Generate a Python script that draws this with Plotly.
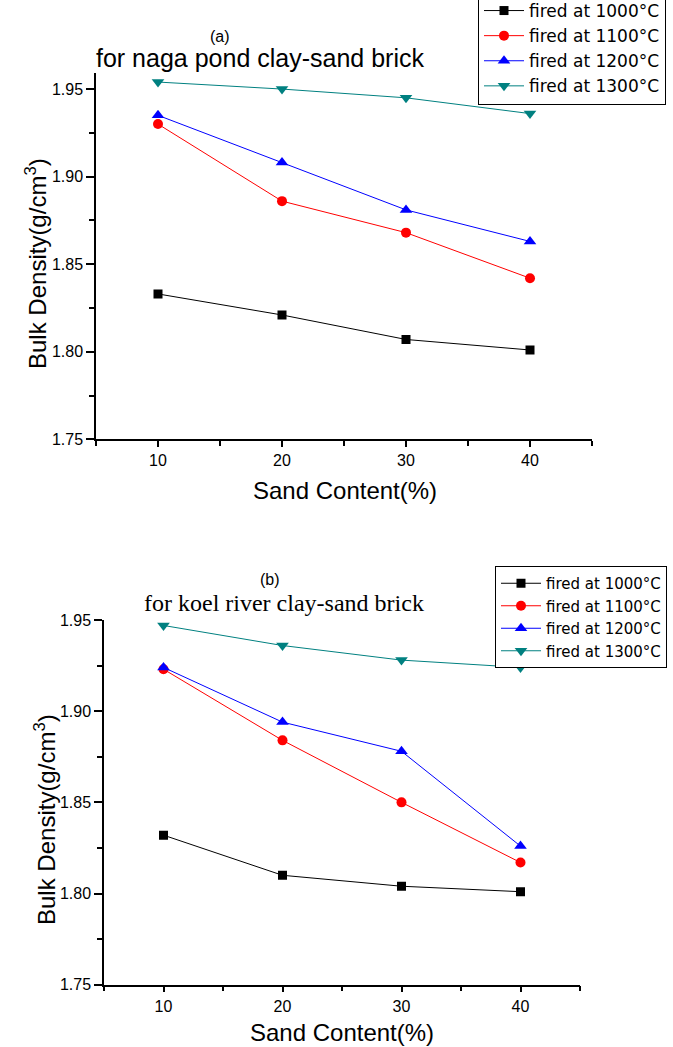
import plotly.graph_objects as go

sand = [10, 20, 30, 40]
series_names = ["fired at 1000°C", "fired at 1100°C", "fired at 1200°C", "fired at 1300°C"]

a_1000 = [1.833, 1.821, 1.807, 1.801]
a_1100 = [1.930, 1.886, 1.868, 1.842]
a_1200 = [1.935, 1.908, 1.881, 1.863]
a_1300 = [1.954, 1.950, 1.945, 1.936]

b_1000 = [1.832, 1.810, 1.804, 1.801]
b_1100 = [1.923, 1.884, 1.850, 1.817]
b_1200 = [1.924, 1.894, 1.878, 1.826]
b_1300 = [1.947, 1.936, 1.928, 1.924]

colors = ["#000000", "#FF0000", "#0000FF", "#008080"]
symbols = ["square", "circle", "triangle-up", "triangle-down"]
msizes = [9, 10, 11, 11]

W, H = 673, 1047
SANS = "Liberation Sans, Arial, sans-serif"
SERIF = "Liberation Serif, Times New Roman, serif"
LEG = "DejaVu Sans, Liberation Sans, sans-serif"

fig = go.Figure()

for i, ys in enumerate([a_1000, a_1100, a_1200, a_1300]):
    fig.add_trace(go.Scatter(
        x=sand, y=ys, mode="lines+markers", name=series_names[i],
        line=dict(color=colors[i], width=1),
        marker=dict(symbol=symbols[i], size=msizes[i], color=colors[i]),
        xaxis="x", yaxis="y", legend="legend"))

for i, ys in enumerate([b_1000, b_1100, b_1200, b_1300]):
    fig.add_trace(go.Scatter(
        x=sand, y=ys, mode="lines+markers", name=series_names[i],
        line=dict(color=colors[i], width=1),
        marker=dict(symbol=symbols[i], size=msizes[i], color=colors[i]),
        xaxis="x2", yaxis="y2", legend="legend2"))

def px_x(p):
    return p / W

def px_y(p):
    return 1 - p / H

axis_common = dict(
    showline=True, linecolor="black", linewidth=1.5, mirror=False,
    ticks="outside", tickwidth=1.5, tickcolor="black",
    showgrid=False, zeroline=False, automargin=False,
    tickfont=dict(family=SANS, size=16, color="black"),
)
minor_x = dict(dtick=5, tick0=5, ticks="outside", ticklen=5, tickcolor="black", tickwidth=1.5)
minor_y = dict(dtick=0.025, tick0=1.75, ticks="outside", ticklen=5, tickcolor="black", tickwidth=1.5)

fig.update_layout(
    width=W, height=H,
    margin=dict(l=0, r=0, t=0, b=0, autoexpand=False),
    paper_bgcolor="white", plot_bgcolor="white",
    xaxis=dict(domain=[px_x(96), px_x(592)], range=[5, 45], anchor="y",
               dtick=10, tick0=0, ticklen=6, minor=minor_x, **axis_common),
    yaxis=dict(domain=[px_y(439.3), px_y(73.3)], range=[1.75, 1.959], anchor="x",
               dtick=0.05, tick0=1.75, tickformat=".2f", ticklen=8, minor=minor_y, **axis_common),
    xaxis2=dict(domain=[px_x(104), px_x(580)], range=[5, 45], anchor="y2",
                dtick=10, tick0=0, ticklen=6, minor=minor_x, **axis_common),
    yaxis2=dict(domain=[px_y(984.7), px_y(620)], range=[1.75, 1.95], anchor="x2",
                dtick=0.05, tick0=1.75, tickformat=".2f", ticklen=8, minor=minor_y, **axis_common),
    legend=dict(x=px_x(478), xanchor="left", y=px_y(105), yanchor="bottom",
                bgcolor="white", bordercolor="black", borderwidth=1, itemwidth=40,
                font=dict(family=LEG, size=17, color="black"), tracegroupgap=0),
    legend2=dict(x=px_x(495), xanchor="left", y=px_y(566), yanchor="top",
                 bgcolor="white", bordercolor="black", borderwidth=1, itemwidth=40,
                 font=dict(family=LEG, size=15, color="black"), tracegroupgap=0),
    showlegend=True,
)

def ann(text, x, y, size, family=SANS, angle=0):
    fig.add_annotation(text=text, x=px_x(x), y=px_y(y), xref="paper", yref="paper",
                       showarrow=False, xanchor="center", yanchor="middle",
                       textangle=angle, font=dict(family=family, size=size, color="black"))

ann("(a)", 220, 37, 16)
ann("for naga pond clay-sand brick", 260, 58, 25)
ann("Bulk Density(g/cm<sup>3</sup>)", 36, 264, 24, angle=-90)
ann("Sand Content(%)", 345, 490, 24)

ann("(b)", 270, 579, 16)
ann("for koel river clay-sand brick", 284, 603, 24, family=SERIF)
ann("Bulk Density(g/cm<sup>3</sup>)", 45, 820, 24, angle=-90)
ann("Sand Content(%)", 342, 1032, 24)

fig.write_html("out.html")
